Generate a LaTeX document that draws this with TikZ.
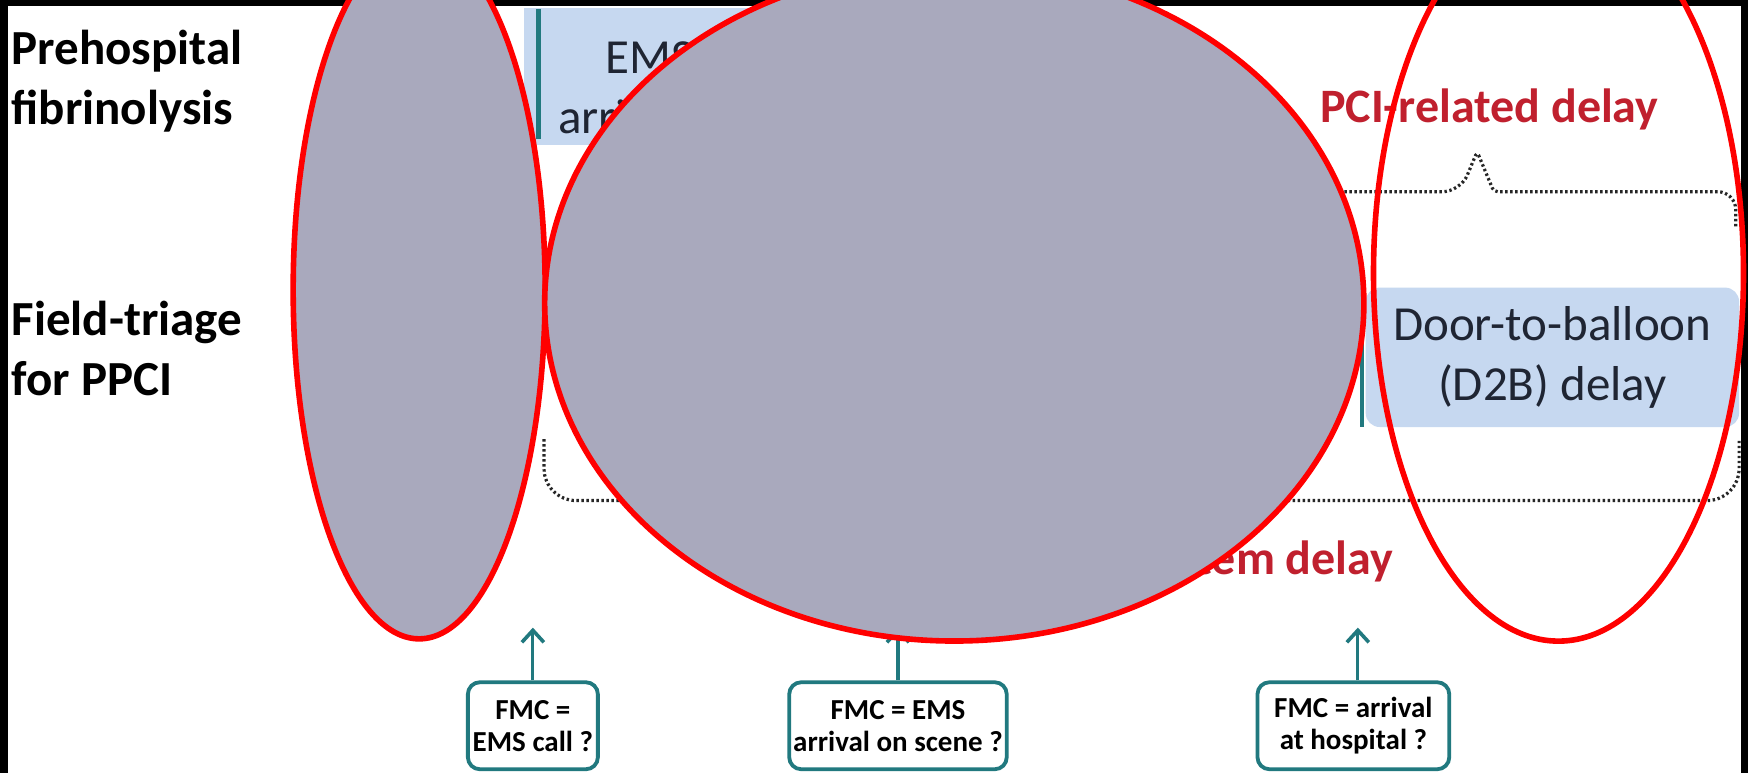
\documentclass[tikz,border=0pt]{standalone}
\usepackage{fontspec}
\setmainfont{Carlito}
\usetikzlibrary{arrows.meta}
\definecolor{boxblue}{HTML}{C6D8F0}
\definecolor{marker}{HTML}{21797F}
\definecolor{delayred}{HTML}{C0202E}
\definecolor{maskgrey}{HTML}{A9A9BD}
\definecolor{ink}{HTML}{1F2533}
\definecolor{maskred}{HTML}{FF0000}
\tikzset{
  rowlabel/.style={anchor=west, align=left, inner sep=0pt, text=black,
    font=\fontsize{24.5}{30}\selectfont\bfseries},
  phasebox/.style={fill=boxblue, draw=none, rounded corners=7pt, align=center,
    text=ink, font=\fontsize{24.5}{30}\selectfont},
  delaylabel/.style={inner sep=0pt, text=delayred,
    font=\fontsize{24}{28}\selectfont\bfseries},
  markerline/.style={draw=marker, line width=2.1pt},
  bracket/.style={draw=black!85, line width=1.6pt, dash pattern=on 1.2pt off 1.3pt},
  fmcbox/.style={draw=marker, line width=1.9pt, fill=white, rounded corners=6pt,
    align=center, inner sep=2pt, minimum height=43.5pt,
    font=\fontsize{14.5}{16}\selectfont\bfseries, text=black},
  fmcarrow/.style={draw=marker, line width=1.6pt,
    -{Straight Barb[length=6pt,width=11pt,line width=1.8pt]}},
  mask/.style={fill=maskgrey, draw=maskred, line width=2.8pt},
  ring/.style={draw=maskred, line width=2.8pt}
}
\begin{document}
\begin{tikzpicture}[x=0.5574pt, y=-0.5574pt]
  % frame
  \useasboundingbox (0,0) rectangle (1568,693);
  \fill[black] (0,0) rectangle (1568,693);
  \fill[white] (7,5) rectangle (1562,693);

  % row labels
  \node[rowlabel] (rowA) at (10,73) {Prehospital\\fibrinolysis};
  \node[rowlabel] (rowB) at (10,313) {Field-triage\\for PPCI};

  % upper row phase
  \fill[boxblue] (470,7) rectangle (1000,130);
  \node[align=center, text=ink, font=\fontsize{24.5}{30}\selectfont, inner sep=0pt]
    (emsphase) at (641,78) {EMS call to\\arrival on scene};
  \coordinate (mA1) at (483,8);
  \coordinate (mA2) at (483,125);
  \draw[markerline] (mA1) -- (mA2);

  % lower row phase
  \node[phasebox, minimum width=186.7pt, minimum height=69.7pt] (d2b) at (1392.5,320.5)
    {Door-to-balloon\\(D2B) delay};
  \coordinate (mB1) at (1222,265);
  \coordinate (mB2) at (1222,383);
  \draw[markerline] (mB1) -- (mB2);

  % PCI-related delay bracket
  \coordinate (pA) at (1093,205);
  \coordinate (pPeak) at (1325,136);
  \coordinate (pB) at (1557,205);
  \draw[bracket] (pA) [rounded corners=9pt] |- (1310,172)
    [rounded corners=2pt] -- (pPeak) -- (1340,172)
    [rounded corners=9pt] -| (pB);
  \node[delaylabel, anchor=base] (pcidelay) at (1336,110) {PCI-related delay};

  % system delay bracket
  \coordinate (sA) at (488,394);
  \coordinate (sPeak) at (1024,488);
  \coordinate (sB) at (1560,394);
  \draw[bracket] (sA) [rounded corners=16pt] |- (1000,449)
    [rounded corners=2pt] -- (sPeak) -- (1048,449)
    [rounded corners=16pt] -| (sB);
  \node[delaylabel, anchor=base east] (sysdelay) at (1250,515) {System delay};

  % FMC definitions
  \node[fmcbox, minimum width=65pt] (fmc1) at (478,651) {FMC =\\EMS call ?};
  \node[fmcbox, minimum width=107.6pt] (fmc2) at (805.5,651) {FMC = EMS\\arrival on scene ?};
  \node[fmcbox, minimum width=95.9pt] (fmc3) at (1214,651) {FMC = arrival\\at hospital ?};
  \coordinate (t1) at (478,563);
  \coordinate (t2) at (805.5,563);
  \coordinate (t3) at (1218,563);
  \draw[fmcarrow] (fmc1.north) -- (t1);
  \draw[fmcarrow] (fmc2.north) -- (t2);
  \draw[fmcarrow] (fmc3.north -| t3) -- (t3);

  % overlays
  \draw[mask] (376,260) ellipse [x radius=63pt, y radius=174.5pt];
  \draw[mask] (856,272) ellipse [x radius=204.8pt, y radius=168.9pt];
  \draw[ring] (1398,245) ellipse [x radius=92.5pt, y radius=184pt];
\end{tikzpicture}
\end{document}
